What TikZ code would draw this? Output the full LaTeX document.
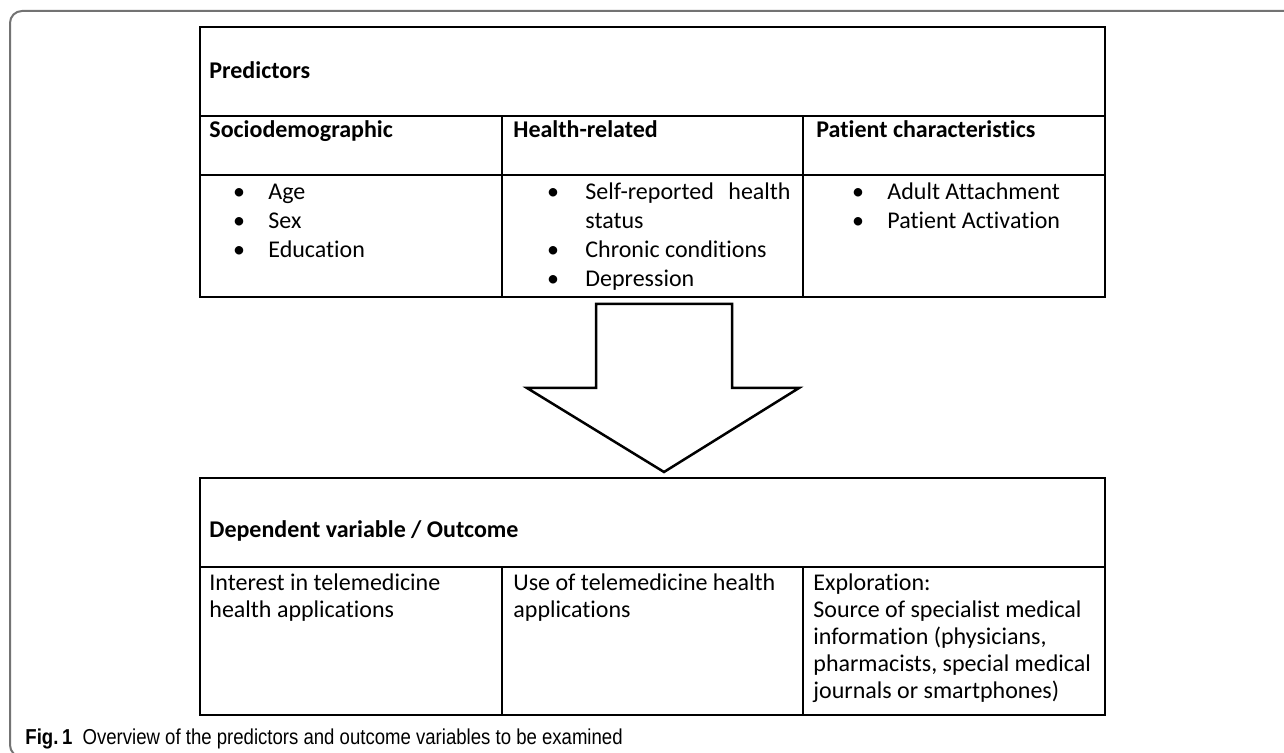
\documentclass[tikz,border=0pt]{standalone}
\usepackage{fontspec}
\setmainfont{Carlito}[Ligatures=NoCommon]
\newfontfamily\capfont{Liberation Sans}[FakeStretch=0.86]
\usetikzlibrary{positioning}

\tikzset{
  txt/.style={anchor=base west, inner sep=0pt, font=\fontsize{12}{14.5}\selectfont},
  hd/.style={txt, font=\bfseries\fontsize{12}{14.5}\selectfont},
  bul/.style={anchor=base, inner sep=0pt, font=\fontsize{12}{14.5}\selectfont},
  par/.style={txt, align=left, anchor=north west, font=\fontsize{12}{13.6}\selectfont},
  grid/.style={line width=0.75pt},
}

\begin{document}
\begin{tikzpicture}[x=0.5pt, y=-0.5pt]
        \useasboundingbox (0,0) rectangle (1284,753);
        % frame of the figure
        \begin{scope}
            \clip (0,0) rectangle (1284,753);
            \draw[line width=1pt, black!55, rounded corners=6pt] (1300,11) -- (10,11) -- (10,757) -- (60,757);
        \end{scope}
        % predictors table
        \draw[grid] (200,27) rectangle (1105,297);
        \draw[grid] (200,116) -- (1105,116);
        \draw[grid] (200,175) -- (1105,175);
        \draw[grid] (502,116) -- (502,297);
        \draw[grid] (803,116) -- (803,297);
        \node[hd] (pred) at (209,79) {Predictors};
        \node[hd] (socio) at (209,138) {Sociodemographic};
        \node[hd] (health) at (513,138) {Health-related};
        \node[hd] (patient) at (816,138) {Patient characteristics};
        \foreach \y/\t [count=\i] in {200/Age, 229/Sex, 258/Education} {
            \node[bul] (sb\i) at (239,\y) {\textbullet};
            \node[txt] (s\i) at (268,\y) {\t};
        }
        \node[bul] (hb1) at (553,200) {\textbullet};
        \node[txt] (h1) at (585,200) {Self-reported};
        \node[txt, anchor=base east] (h1b) at (791,200) {health};
        \node[txt] (h2) at (585,229) {status};
        \node[bul] (hb3) at (553,258) {\textbullet};
        \node[txt] (h3) at (585,258) {Chronic conditions};
        \node[bul] (hb4) at (553,287) {\textbullet};
        \node[txt] (h4) at (585,287) {Depression};
        \foreach \y/\t [count=\i] in {200/Adult Attachment, 229/Patient Activation} {
            \node[bul] (pb\i) at (858,\y) {\textbullet};
            \node[txt] (p\i) at (887,\y) {\t};
        }
        % block arrow
        \draw[line width=1.25pt, line join=miter] (596,304) -- (732,304) -- (732,388) -- (799,388) -- (664,472) -- (527,388) -- (596,388) -- cycle;
        % outcome table
        \draw[grid] (200,478) rectangle (1105,715);
        \draw[grid] (200,567) -- (1105,567);
        \draw[grid] (502,567) -- (502,715);
        \draw[grid] (803,567) -- (803,715);
        \node[hd] (dep) at (209,537) {Dependent variable / Outcome};
        \node[par] (interest) at (209,573) {Interest in telemedicine\\health applications};
        \node[par] (use) at (513,573) {Use of telemedicine health\\applications};
        \node[par] (explore) at (813,573) {Exploration:\\Source of specialist medical\\information (physicians,\\pharmacists, special medical\\journals or smartphones)};
        % caption
        \node[anchor=base west, inner sep=0pt, font=\capfont\fontsize{10.8}{13}\selectfont] (cap) at (25,744) {\textbf{Fig.\,1}\ \ Overview of the predictors and outcome variables to be examined};
\end{tikzpicture}
\end{document}
